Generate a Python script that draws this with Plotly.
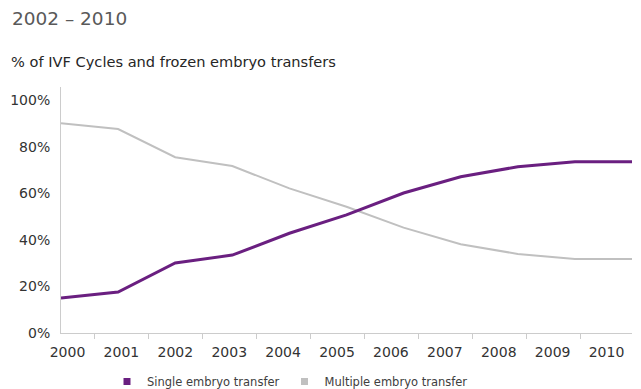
import plotly.graph_objects as go

years = ["2000", "2001", "2002", "2003", "2004", "2005", "2006", "2007", "2008", "2009", "2010"]
single = [15.1, 17.6, 30.1, 33.5, 42.9, 50.8, 60.2, 67.2, 71.5, 73.7, 73.7]
multiple = [90.2, 87.7, 75.6, 71.8, 62.2, 54.3, 45.3, 38.2, 34.0, 31.8, 31.8]
y_ticks = [0, 20, 40, 60, 80, 100]

PURPLE = "#6a1f80"
GRAY = "#c0c0c0"
AXIS = "#cccccc"
FONT = "DejaVu Sans"

idx = list(range(len(years)))
# category label axis in the original is offset/narrower than the data axis
step = 0.944
label_pos = [0.114 + step * i for i in idx]
tick_pos = [0.595 + step * i for i in range(len(years) - 1)]

W, H = 641, 389
ML, MR, MT, MB = 61, 9, 87, 56
W_plot = W - ML - MR
H_plot = H - MT - MB


def px_x(p):
    return (p - ML) / W_plot


def px_y(p):
    return (H - MB - p) / H_plot


fig = go.Figure()
fig.add_trace(go.Scatter(x=idx, y=multiple, mode="lines", line=dict(color=GRAY, width=2),
                         showlegend=False, hoverinfo="skip"))
fig.add_trace(go.Scatter(x=idx, y=single, mode="lines", line=dict(color=PURPLE, width=3),
                         showlegend=False, hoverinfo="skip"))
# legend entries (square swatches)
fig.add_trace(go.Scatter(x=[None], y=[None], mode="markers", name="Single embryo transfer",
                         marker=dict(symbol="square", size=7, color=PURPLE)))
fig.add_trace(go.Scatter(x=[None], y=[None], mode="markers", name="Multiple embryo transfer",
                         marker=dict(symbol="square", size=7, color=GRAY)))

fig.update_layout(
    width=W, height=H,
    margin=dict(l=ML, r=MR, t=MT, b=MB, autoexpand=False),
    paper_bgcolor="white", plot_bgcolor="white",
    font=dict(family=FONT, color="#404040", size=14),
    showlegend=True,
    legend=dict(orientation="h", x=px_x(107), xanchor="left",
                yref="container", y=(H - 381.5) / H, yanchor="middle",
                font=dict(size=11.5, color="#404040"), itemwidth=30,
                traceorder="normal", bgcolor="rgba(0,0,0,0)"),
    annotations=[
        dict(text="2002 – 2010", x=px_x(10), y=px_y(18), xref="paper", yref="paper",
             showarrow=False, xanchor="left", yanchor="middle",
             font=dict(size=18.5, color="#595959", family=FONT)),
        dict(text="% of IVF Cycles and frozen embryo transfers", x=px_x(9), y=px_y(61),
             xref="paper", yref="paper",
             showarrow=False, xanchor="left", yanchor="middle",
             font=dict(size=14.6, color="#262626", family=FONT)),
    ],
)

fig.update_xaxes(
    range=[0, 10], showgrid=False, zeroline=False,
    showline=True, linecolor=AXIS, linewidth=1,
    tickmode="array", tickvals=label_pos, ticktext=years, ticks="",
    ticklabelstandoff=6, tickfont=dict(size=14, color="#333333"),
    minor=dict(tickmode="array", tickvals=tick_pos, ticks="outside", ticklen=5,
               tickcolor=AXIS, tickwidth=1, showgrid=False),
)
fig.update_yaxes(
    range=[0, 105.8], showgrid=False, zeroline=False,
    showline=True, linecolor=AXIS, linewidth=1,
    tickmode="array", tickvals=y_ticks, ticktext=[f"{v}%" for v in y_ticks],
    ticks="", ticklabelstandoff=7, tickfont=dict(size=14, color="#333333"),
)

fig.write_html("out.html")
